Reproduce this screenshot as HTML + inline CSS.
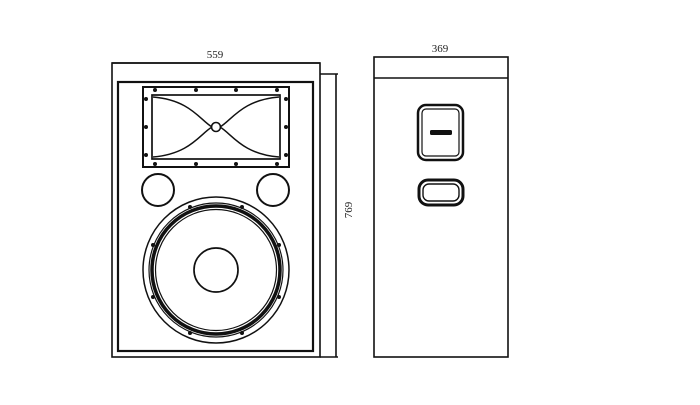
<!DOCTYPE html>
<html><head><style>body{margin:0;background:#fff}</style></head><body>
<svg width="700" height="405" viewBox="0 0 700 405" xmlns="http://www.w3.org/2000/svg" style="display:block">
<g fill="none" stroke="#111" stroke-width="1.6">
<line x1="112" y1="63" x2="320" y2="63"/>
<rect x="112" y="63" width="208" height="294"/>
<rect x="118" y="82" width="195" height="269" stroke-width="2.2"/>
<line x1="320" y1="74" x2="338" y2="74"/>
<line x1="320" y1="357" x2="338" y2="357"/>
<line x1="336" y1="74" x2="336" y2="357"/>
<rect x="143" y="87" width="146" height="80" stroke-width="2"/>
<rect x="152" y="95" width="128" height="64" stroke-width="1.7"/>
<path d="M153,97 C190,100 200,120 212,127 M220,127 C232,120 242,100 279,97 M153,157 C190,154 200,134 212,127 M220,127 C232,134 242,154 279,157" stroke-width="1.5"/>
<circle cx="216" cy="127" r="4.5"/>
<circle cx="158" cy="190" r="16" stroke-width="2"/>
<circle cx="273" cy="190" r="16" stroke-width="2"/>
<circle cx="216" cy="270" r="73" stroke-width="1.5"/>
<circle cx="216" cy="270" r="67" stroke-width="1.2"/>
<circle cx="216" cy="270" r="64" stroke-width="3.5"/>
<circle cx="216" cy="270" r="60.5" stroke-width="1.2"/>
<circle cx="216" cy="270" r="22" stroke-width="1.7"/>
<rect x="374" y="57" width="134" height="300"/>
<line x1="374" y1="78" x2="508" y2="78"/>
<rect x="418" y="105" width="45" height="55" rx="8" stroke-width="2.5"/>
<rect x="422" y="109" width="37" height="47" rx="4" stroke-width="1.2"/>
<rect x="419" y="180" width="44" height="25" rx="9" stroke-width="3"/>
<rect x="423" y="184" width="36" height="17" rx="6" stroke-width="1.4"/>
</g>
<g fill="#111">
<rect x="430" y="130" width="22" height="5" rx="1.5"/>
<circle cx="155" cy="90" r="2"/><circle cx="196" cy="90" r="2"/><circle cx="236" cy="90" r="2"/><circle cx="277" cy="90" r="2"/>
<circle cx="155" cy="164" r="2"/><circle cx="196" cy="164" r="2"/><circle cx="236" cy="164" r="2"/><circle cx="277" cy="164" r="2"/>
<circle cx="146" cy="99" r="2"/><circle cx="146" cy="127" r="2"/><circle cx="146" cy="155" r="2"/>
<circle cx="286" cy="99" r="2"/><circle cx="286" cy="127" r="2"/><circle cx="286" cy="155" r="2"/>
<circle cx="190" cy="207" r="2"/><circle cx="242" cy="207" r="2"/><circle cx="153" cy="245" r="2"/><circle cx="279" cy="245" r="2"/>
<circle cx="153" cy="297" r="2"/><circle cx="279" cy="297" r="2"/><circle cx="190" cy="333" r="2"/><circle cx="242" cy="333" r="2"/>
</g>
<g font-family="Liberation Serif, serif" font-size="11" fill="#222" text-anchor="middle">
<text x="215" y="58">559</text>
<text x="440" y="52">369</text>
<text x="352" y="210" transform="rotate(-90 352 210)">769</text>
</g>
</svg>
</body></html>
